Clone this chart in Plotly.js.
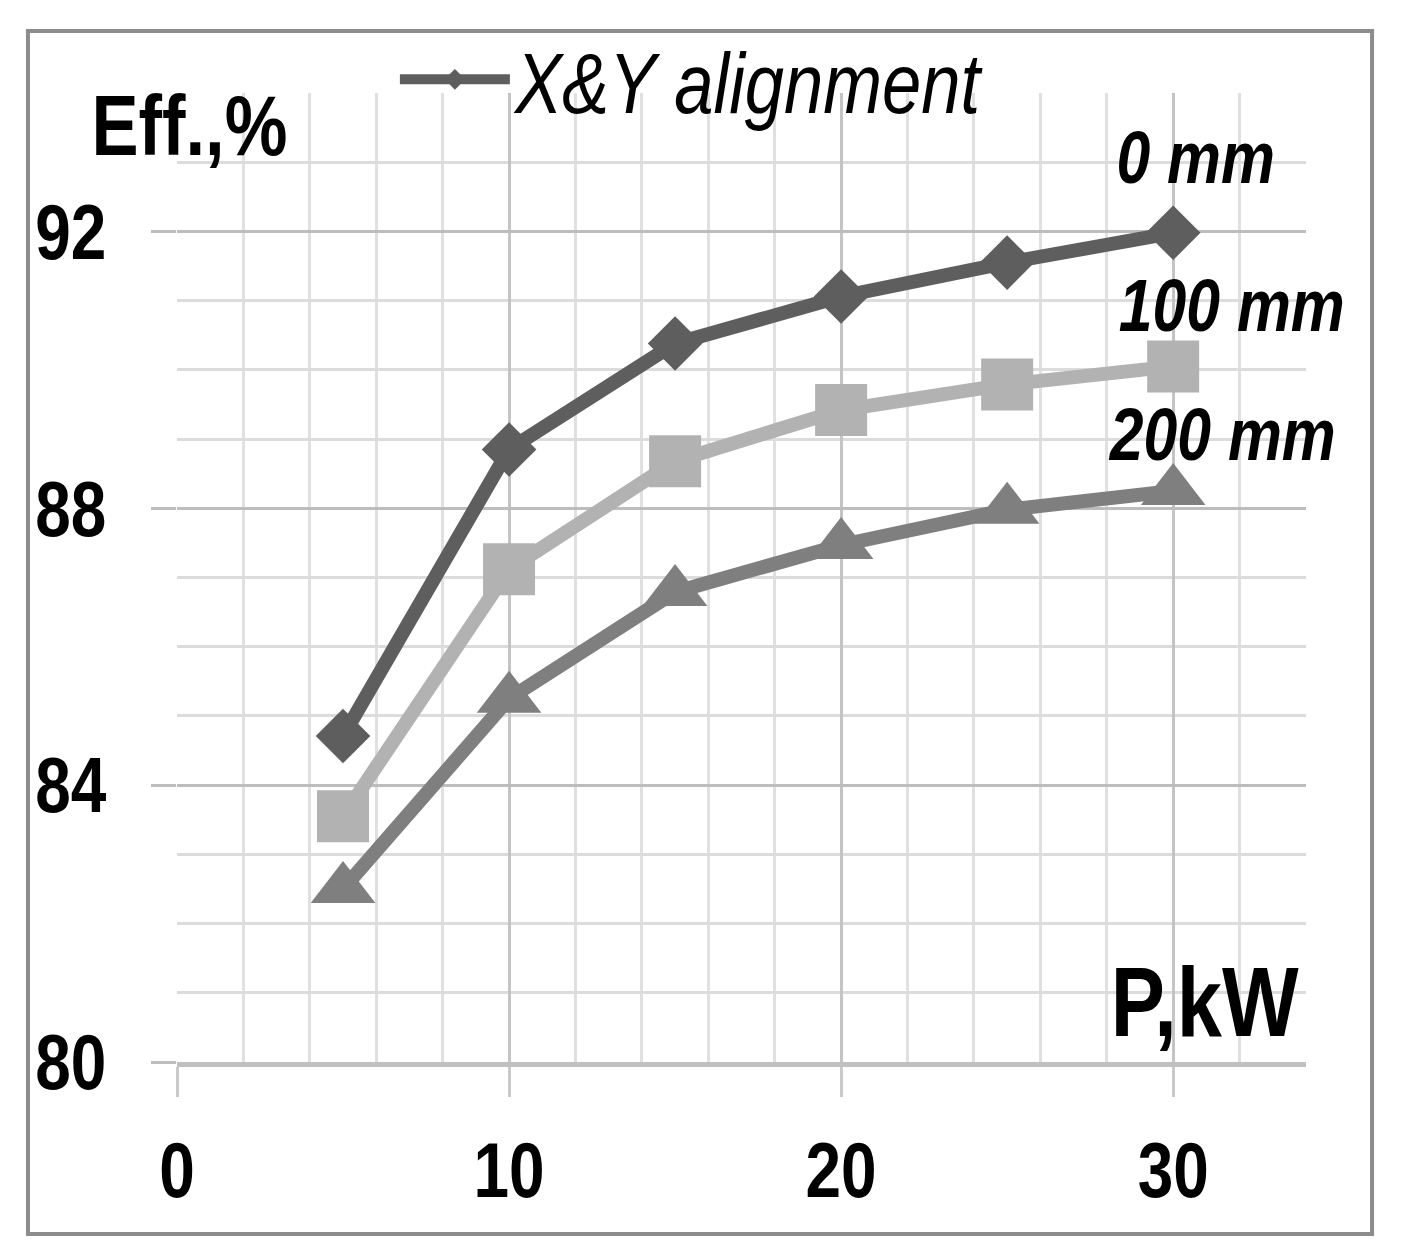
<!DOCTYPE html>
<html>
<head>
<meta charset="utf-8">
<script src="https://cdn.plot.ly/plotly-3.0.1.min.js"></script>
<style>
    html, body { margin: 0; padding: 0; background: #fff; }
    #effPlot { width: 1401px; height: 1260px; }
</style>
</head>
<body>
<div id="effPlot"></div>
<script>
// values
const powerKw = [5, 10, 15, 20, 25, 30]
const eff0mm = [84.71, 88.85, 90.38, 91.06, 91.55, 91.98]
const eff100mm = [83.55, 87.12, 88.68, 89.42, 89.79, 90.05]
const eff200mm = [82.50, 85.25, 86.79, 87.47, 87.98, 88.25]
const seriesLabels = ['0 mm', '100 mm', '200 mm']
const legendName = 'X&Y alignment'
const xTicks = [0, 10, 20, 30]
const yTicks = [80, 84, 88, 92]

const sans = "'Liberation Sans', Arial, sans-serif"
const narrowFactor = 0.82 // Arial Narrow is roughly Arial squeezed to 82 %

// one entry per series: values, colour, marker, label offset from last point
const seriesFormat = [
    {y: eff0mm, color: '#5e5e5e', symbol: 'diamond', size: 42, dx: 22, dy: 75},
    {y: eff100mm, color: '#b2b2b2', symbol: 'square', size: 52, dx: 59, dy: 61},
    {y: eff200mm, color: '#7f7f7f', symbol: 'triangle-up', size: 56, dx: 49, dy: 56}
]

let plotData = []
let annotations = []

seriesFormat.forEach((fmt, i) => {
    plotData.push({
        type: 'scatter',
        mode: 'lines+markers',
        x: powerKw,
        y: fmt.y,
        name: i === 0 ? legendName : seriesLabels[i],
        showlegend: i === 0,
        line: {color: fmt.color, width: 14},
        marker: {symbol: fmt.symbol, size: fmt.size, color: fmt.color},
        cliponaxis: false
    })

    let last = fmt.y.length - 1
    annotations.push({
        x: powerKw[last],
        y: fmt.y[last],
        xref: 'x',
        yref: 'y',
        xanchor: 'center',
        yanchor: 'middle',
        text: seriesLabels[i],
        showarrow: false,
        xshift: fmt.dx,
        yshift: fmt.dy,
        font: {family: sans, size: 74, color: '#000', weight: 'bold', style: 'italic'}
    })
})

// axis labels
annotations.push({
    xref: 'paper', yref: 'paper', x: 0.0115, y: 0.967,
    xanchor: 'center', yanchor: 'middle',
    text: 'Eff.,%', showarrow: false,
    font: {family: sans, size: 86, color: '#000', weight: 'bold'}
})
annotations.push({
    xref: 'paper', yref: 'paper', x: 0.9105, y: 0.062,
    xanchor: 'center', yanchor: 'middle',
    text: 'P,kW', showarrow: false,
    font: {family: sans, size: 99, color: '#000', weight: 'bold'}
})

let plotLayout = {
    width: 1401,
    height: 1260,
    autosize: false,
    margin: {l: 177, r: 95, t: 93, b: 198},
    paper_bgcolor: '#fff',
    plot_bgcolor: '#fff',
    font: {family: sans, color: '#000'},
    xaxis: {
        range: [0, 34],
        tickvals: xTicks,
        ticktext: xTicks.map(String),
        showgrid: true,
        gridcolor: '#c4c4c4',
        gridwidth: 3,
        zeroline: false,
        showline: true,
        linecolor: '#c0c0c0',
        linewidth: 5,
        ticks: 'outside',
        ticklen: 30,
        tickwidth: 3,
        tickcolor: '#cacaca',
        ticklabelstandoff: 6,
        tickfont: {family: sans, size: 78, weight: 'bold', color: '#000'},
        minor: {dtick: 2, tick0: 0, showgrid: true, gridcolor: '#e0e0e0', gridwidth: 3}
    },
    yaxis: {
        range: [80, 94],
        tickvals: yTicks,
        ticktext: yTicks.map(String),
        showgrid: true,
        gridcolor: '#bdbdbd',
        gridwidth: 3,
        zeroline: false,
        showline: false,
        ticks: 'outside',
        ticklen: 25,
        tickwidth: 3,
        tickcolor: '#bdbdbd',
        ticklabelstandoff: 29,
        tickfont: {family: sans, size: 78, weight: 'bold', color: '#000'},
        minor: {dtick: 1, tick0: 80, showgrid: true, gridcolor: '#dcdcdc', gridwidth: 3}
    },
    showlegend: true,
    legend: {
        x: 0.193,
        xanchor: 'left',
        y: 1.014,
        yanchor: 'middle',
        bgcolor: 'rgba(0,0,0,0)',
        itemwidth: 110,
        font: {family: sans, size: 86, style: 'italic', color: '#000'}
    },
    annotations: annotations,
    shapes: [{
        type: 'rect',
        xref: 'paper', yref: 'paper',
        x0: -0.132, x1: 1.0585, y0: -0.1775, y1: 1.064,
        line: {color: '#8c8c8c', width: 4},
        layer: 'below'
    }]
}

let plotConfig = {staticPlot: true, displayModeBar: false}

function condenseTexts(gd, factor) {
    // squeeze every label horizontally to mimic a narrow typeface
    gd.querySelectorAll('svg text').forEach(t => {
        if (!t.textContent.trim()) return
        let len = t.getComputedTextLength()
        t.setAttribute('textLength', (len * factor).toFixed(1))
        t.setAttribute('lengthAdjust', 'spacingAndGlyphs')
    })
}

let plotDiv = document.getElementById('effPlot')
Plotly.newPlot(plotDiv, plotData, plotLayout, plotConfig).then(() => {
    condenseTexts(plotDiv, narrowFactor)
})
</script>
</body>
</html>
